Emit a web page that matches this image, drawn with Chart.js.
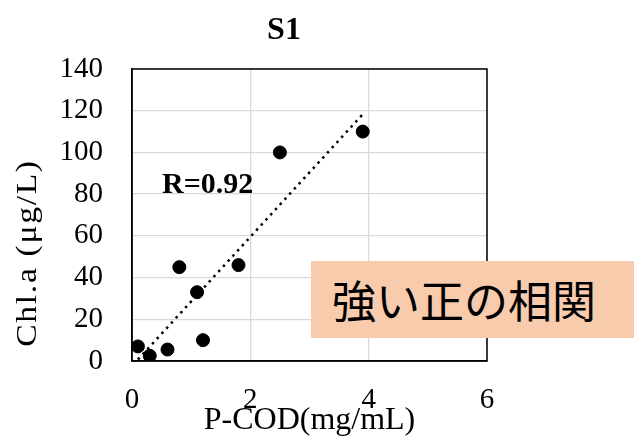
<!DOCTYPE html>
<html>
<head>
<meta charset="utf-8">
<script src="https://cdn.jsdelivr.net/npm/chart.js@4.4.1/dist/chart.umd.min.js"></script>
<style>
  body { margin: 0; background: #fff; }
  #wrap { position: relative; width: 634px; height: 440px; }
  #note {
    position: absolute; left: 311px; top: 261px; width: 323px; height: 77px;
    background: #f8cbad; font-family: "Noto Sans CJK JP"; font-size: 44px;
    line-height: 77px; padding-left: 21px; box-sizing: border-box; color: #000;
    white-space: nowrap;
  }
</style>
</head>
<body>
<div id="wrap">
  <canvas id="scatterChart" width="634" height="440"></canvas>
  <div id="note">強い正の相関</div>
</div>
<script>
// values
const pcod = [0.1, 0.3, 0.6, 1.2, 1.1, 0.8, 1.8, 2.5, 3.9];
const chla = [7, 2.5, 5.5, 10, 33, 45, 46, 100, 110];
const xTicks = [0, 2, 4, 6];
const yTicks = [0, 20, 40, 60, 80, 100, 120, 140];

const serif = '"Liberation Serif", "Times New Roman", serif';

// least squares trendline, drawn between the smallest and largest x
function trendline(xs, ys) {
  const n = xs.length;
  const mx = xs.reduce((a, b) => a + b, 0) / n;
  const my = ys.reduce((a, b) => a + b, 0) / n;
  let sxy = 0, sxx = 0;
  for (let i = 0; i < n; i++) {
    sxy += (xs[i] - mx) * (ys[i] - my);
    sxx += (xs[i] - mx) * (xs[i] - mx);
  }
  const slope = sxy / sxx;
  const icpt = my - slope * mx;
  const x0 = Math.min(...xs), x1 = Math.max(...xs);
  return [{ x: x0, y: icpt + slope * x0 }, { x: x1, y: icpt + slope * x1 }];
}

const frame = {
  id: 'frame',
  afterDraw(chart) {
    const { ctx, chartArea: a } = chart;
    ctx.save();
    ctx.strokeStyle = '#000';
    ctx.lineWidth = 1.5;
    ctx.strokeRect(a.left, a.top, a.right - a.left, a.bottom - a.top);
    ctx.fillStyle = '#000';
    ctx.textBaseline = 'alphabetic';
    ctx.textAlign = 'center';
    ctx.font = 'bold 32px ' + serif;
    ctx.fillText('S1', 284, 39);
    ctx.textAlign = 'left';
    ctx.font = 'bold 30px ' + serif;
    ctx.fillText('R=0.92', 162, 193);
    // y axis title, a little stretched along its length like the original
    ctx.translate(28, 253);
    ctx.rotate(-Math.PI / 2);
    ctx.scale(1.12, 1);
    ctx.textAlign = 'center';
    ctx.textBaseline = 'middle';
    ctx.font = '30px ' + serif;
    ctx.letterSpacing = '1.5px';
    ctx.fillText('Chl.a (μg/L)', 0, 0);
    ctx.restore();
  }
};

document.addEventListener("DOMContentLoaded", function () {
  const ctx = document.getElementById("scatterChart").getContext('2d');
  new Chart(ctx, {
    type: 'scatter',
    data: {
      datasets: [{
        label: 'S1',
        data: pcod.map((x, i) => ({ x: x, y: chla[i] })),
        backgroundColor: '#000',
        borderColor: '#000',
        pointRadius: 6.5,
        pointHoverRadius: 6.5
      },
      {
        label: 'trend',
        type: 'line',
        data: trendline(pcod, chla),
        borderColor: '#000',
        borderWidth: 2.5,
        borderDash: [2.5, 4.5],
        pointRadius: 0,
        fill: false
      }]
    },
    options: {
      responsive: false,
      animation: false,
      layout: { padding: { top: 69, right: 147, left: 0, bottom: 0 } },
      plugins: { legend: { display: false }, tooltip: { enabled: false } },
      scales: {
        x: {
          type: 'linear', min: 0, max: 6,
          afterBuildTicks: (s) => { s.ticks = xTicks.map(v => ({ value: v })); },
          afterFit: (s) => { s.height = 79; },
          grid: { color: '#d9d9d9', lineWidth: 1.3, drawTicks: false },
          border: { color: '#000', width: 1.5 },
          ticks: { color: '#000', font: { family: serif, size: 29 }, padding: 22 },
          title: { display: true, text: 'P-COD(mg/mL)', color: '#000',
                   font: { family: serif, size: 32 }, padding: { top: 0, bottom: 0 } }
        },
        y: {
          min: 0, max: 140,
          afterBuildTicks: (s) => { s.ticks = yTicks.map(v => ({ value: v })); },
          afterFit: (s) => { s.width = 132; },
          grid: { color: '#d9d9d9', lineWidth: 1.3, drawTicks: false },
          border: { color: '#000', width: 1.5 },
          ticks: { color: '#000', font: { family: serif, size: 29 }, padding: 29 }
        }
      }
    },
    plugins: [frame]
  });
});
</script>
</body>
</html>
